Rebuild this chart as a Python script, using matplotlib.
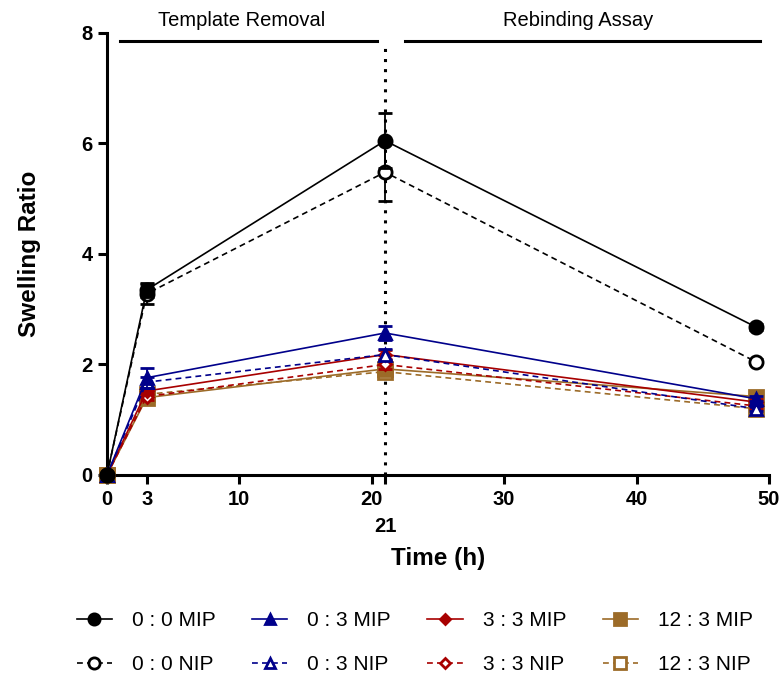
"""
Swelling ratio of MIP / NIP hydrogels over time
"""
import matplotlib
matplotlib.use("Agg")
import matplotlib.pyplot as plt
from matplotlib.lines import Line2D

time_h = [0, 3, 21, 49]

mip_00 = [0.0, 3.35, 6.05, 2.68]
mip_00_err = [0.0, 0.12, 0.50, 0.05]
nip_00 = [0.0, 3.28, 5.48, 2.05]
nip_00_err = [0.0, 0.18, 0.52, 0.05]

mip_03 = [0.0, 1.76, 2.57, 1.38]
mip_03_err = [0.0, 0.18, 0.12, 0.05]
nip_03 = [0.0, 1.68, 2.18, 1.2]
nip_03_err = [0.0, 0.10, 0.10, 0.05]

mip_33 = [0.0, 1.52, 2.18, 1.32]
mip_33_err = [0.0, 0.06, 0.08, 0.05]
nip_33 = [0.0, 1.42, 2.0, 1.25]
nip_33_err = [0.0, 0.06, 0.08, 0.05]

mip_123 = [0.0, 1.40, 1.92, 1.42]
mip_123_err = [0.0, 0.06, 0.08, 0.05]
nip_123 = [0.0, 1.46, 1.87, 1.2]
nip_123_err = [0.0, 0.06, 0.08, 0.05]

labels = ["0 : 0 MIP", "0 : 0 NIP", "0 : 3 MIP", "0 : 3 NIP",
          "3 : 3 MIP", "3 : 3 NIP", "12 : 3 MIP", "12 : 3 NIP"]

x_ticks = [0, 3, 10, 20, 21, 30, 40, 50]
x_ticklabels = ["0", "3", "10", "20", "21", "30", "40", "50"]
y_ticks = [0, 2, 4, 6, 8]

black = "#000000"
blue = "#00008B"
red = "#A80000"
brown = "#9C6B28"

series = [
    (mip_00, mip_00_err, black, "o", True, "-"),
    (nip_00, nip_00_err, black, "o", False, (0, (3.5, 2.5))),
    (mip_03, mip_03_err, blue, "^", True, "-"),
    (nip_03, nip_03_err, blue, "^", False, (0, (3.5, 2.5))),
    (mip_33, mip_33_err, red, "D", True, "-"),
    (nip_33, nip_33_err, red, "D", False, (0, (3.5, 2.5))),
    (mip_123, mip_123_err, brown, "s", True, "-"),
    (nip_123, nip_123_err, brown, "s", False, (0, (3.5, 2.5))),
]
marker_size = {"o": 9.5, "^": 9, "D": 6.5, "s": 9.5}

plt.rcParams["font.family"] = ["Liberation Sans", "DejaVu Sans"]

fig = plt.figure(figsize=(7.82, 6.84), dpi=100)
ax = fig.add_axes([0.1368, 0.3056, 0.8465, 0.6462])

handles = []
for i, ((vals, err, col, mk, filled, ls), lab) in enumerate(zip(series, labels)):
    ms = marker_size[mk]
    face = col if filled else "white"
    # earlier series sit on top, as in the original
    eb = ax.errorbar(time_h, vals, yerr=err, color=col, linestyle=ls, linewidth=1.2,
                     marker=mk, markersize=ms, markeredgewidth=2,
                     markerfacecolor=face, markeredgecolor=col,
                     ecolor=col, elinewidth=1.3, capsize=4.7, capthick=1.6,
                     zorder=20 - i)
    eb.lines[0].set_clip_on(False)
    for c in eb.lines[1]:
        c.set_clip_on(False)
    for c in eb.lines[2]:
        c.set_clip_on(False)
    handles.append(Line2D([], [], color=col, linestyle=ls, linewidth=1.2, marker=mk,
                          markersize=ms * 0.85, markeredgewidth=2,
                          markerfacecolor=face, markeredgecolor=col))

# phase separator and headings
ax.plot([21, 21], [0, 7.75], color="black", linestyle=(0, (1, 2.3)), linewidth=2.2,
        clip_on=False, zorder=2)
ax.plot([1.0, 20.4], [7.85, 7.85], color="black", linewidth=2.2, clip_on=False)
ax.plot([22.5, 49.3], [7.85, 7.85], color="black", linewidth=2.2, clip_on=False)
ax.text(10.2, 8.05, "Template Removal", ha="center", va="bottom", fontsize=14.5)
ax.text(35.6, 8.05, "Rebinding Assay", ha="center", va="bottom", fontsize=14.5)

ax.set_xlim(0, 50)
ax.set_ylim(0, 8)
ax.set_xticks(x_ticks)
ax.set_xticklabels(x_ticklabels)
ax.set_yticks(y_ticks)
for sp in ["top", "right"]:
    ax.spines[sp].set_visible(False)
for sp in ["left", "bottom"]:
    ax.spines[sp].set_linewidth(2.2)
ax.tick_params(width=2.2, length=6.5, labelsize=14.5, pad=4)
ax.xaxis.get_major_ticks()[4].set_pad(24)
for t in ax.get_xticklabels() + ax.get_yticklabels():
    t.set_fontweight("bold")

ax.set_xlabel("Time (h)", fontsize=17.5, fontweight="bold")
ax.set_ylabel("Swelling Ratio", fontsize=17.5, fontweight="bold")
ax.xaxis.set_label_coords(0.5, -0.163)
ax.yaxis.set_label_coords(-0.10, 0.5)

fig.legend(handles=handles, labels=labels, ncol=4, loc="upper left",
           bbox_to_anchor=(0.098, 0.107), frameon=False, fontsize=15,
           borderpad=0, borderaxespad=0,
           handlelength=1.7, handletextpad=0.95, columnspacing=1.75,
           labelspacing=1.2)

fig.savefig("out.png", dpi=100)
